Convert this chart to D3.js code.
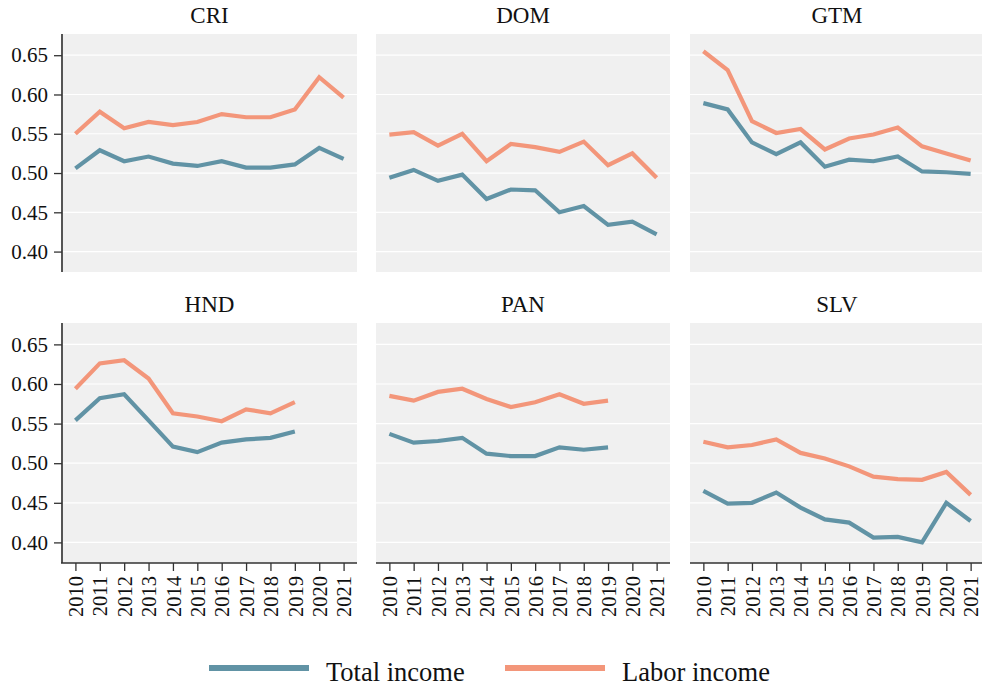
<!DOCTYPE html>
<html>
<head>
<meta charset="utf-8">
<script src="https://cdn.jsdelivr.net/npm/d3@7/dist/d3.min.js"></script>
<style>
  html, body { margin: 0; padding: 0; background: #ffffff; }
  svg { display: block; }
  svg text { font-family: "Liberation Serif", "Times New Roman", serif !important; }
</style>
</head>
<body>
<svg id="chart" width="982" height="690"></svg>
<script>
// Years on the x axis
const years = [2010, 2011, 2012, 2013, 2014, 2015, 2016, 2017, 2018, 2019, 2020, 2021];
const countries = ["CRI", "DOM", "GTM", "HND", "PAN", "SLV"];
const yTicks = [0.40, 0.45, 0.50, 0.55, 0.60, 0.65];
const seriesNames = ["Total income", "Labor income"];

// Gini by country (null = no observation)
const totalCRI = [0.506, 0.529, 0.515, 0.521, 0.512, 0.509, 0.515, 0.507, 0.507, 0.511, 0.532, 0.518];
const laborCRI = [0.550, 0.578, 0.557, 0.565, 0.561, 0.565, 0.575, 0.571, 0.571, 0.581, 0.622, 0.596];
const totalDOM = [0.494, 0.504, 0.490, 0.498, 0.467, 0.479, 0.478, 0.450, 0.458, 0.434, 0.438, 0.422];
const laborDOM = [0.549, 0.552, 0.535, 0.550, 0.515, 0.537, 0.533, 0.527, 0.540, 0.510, 0.525, 0.494];
const totalGTM = [0.589, 0.581, 0.539, 0.524, 0.539, 0.508, 0.517, 0.515, 0.521, 0.502, 0.501, 0.499];
const laborGTM = [0.655, 0.631, 0.566, 0.551, 0.556, 0.530, 0.544, 0.549, 0.558, 0.534, 0.525, 0.516];
const totalHND = [0.554, 0.582, 0.587, 0.554, 0.521, 0.514, 0.526, 0.530, 0.532, 0.540, null, null];
const laborHND = [0.594, 0.626, 0.630, 0.607, 0.563, 0.559, 0.553, 0.568, 0.563, 0.577, null, null];
const totalPAN = [0.537, 0.526, 0.528, 0.532, 0.512, 0.509, 0.509, 0.520, 0.517, 0.520, null, null];
const laborPAN = [0.585, 0.579, 0.590, 0.594, 0.581, 0.571, 0.577, 0.587, 0.575, 0.579, null, null];
const totalSLV = [0.465, 0.449, 0.450, 0.463, 0.444, 0.429, 0.425, 0.406, 0.407, 0.400, 0.450, 0.427];
const laborSLV = [0.527, 0.520, 0.523, 0.530, 0.513, 0.506, 0.496, 0.483, 0.480, 0.479, 0.489, 0.460];

const totals = [totalCRI, totalDOM, totalGTM, totalHND, totalPAN, totalSLV];
const labors = [laborCRI, laborDOM, laborGTM, laborHND, laborPAN, laborSLV];

const colors = { "Total income": "#6193a5", "Labor income": "#f3967a" };

const svg = d3.select("#chart");

const colX = [[62, 357], [376, 670], [690, 984]];
const rowY = [[34, 272], [323, 563]];
const titleY = [23, 312];

const y0 = d3.scaleLinear().domain([0.374, 0.677]);

countries.forEach((c, i) => {
  const col = i % 3, row = Math.floor(i / 3);
  const [xl, xr] = colX[col];
  const [yt, yb] = rowY[row];

  const x = d3.scalePoint().domain(years).range([xl, xr]).padding(0.55);
  const y = y0.copy().range([yb, yt]);

  const g = svg.append("g");

  // panel background
  g.append("rect")
    .attr("x", xl).attr("y", yt)
    .attr("width", xr - xl).attr("height", yb - yt)
    .attr("fill", "#f0f0f0");

  // horizontal gridlines
  g.selectAll("line.grid").data(yTicks).join("line")
    .attr("class", "grid")
    .attr("x1", xl).attr("x2", xr)
    .attr("y1", d => y(d)).attr("y2", d => y(d))
    .attr("stroke", "#ffffff").attr("stroke-width", 1.2);

  // title
  g.append("text")
    .attr("x", (xl + xr) / 2).attr("y", titleY[row])
    .attr("text-anchor", "middle")
    .attr("font-size", 23).attr("fill", "#111")
    .text(c);

  // series lines
  const line = d3.line()
    .defined(d => d.v != null)
    .x(d => x(d.year))
    .y(d => y(d.v));

  [["Total income", totals[i]], ["Labor income", labors[i]]].forEach(([name, vals]) => {
    g.append("path")
      .datum(years.map((yr, k) => ({ year: yr, v: vals[k] })))
      .attr("d", line)
      .attr("fill", "none")
      .attr("stroke", colors[name])
      .attr("stroke-width", 4.2)
      .attr("stroke-linejoin", "miter");
  });

  // left axis on first column
  if (col === 0) {
    const ax = g.append("g")
      .attr("transform", `translate(${xl},0)`)
      .call(d3.axisLeft(y).tickValues(yTicks).tickFormat(d3.format(".2f")).tickSize(8).tickSizeOuter(0).tickPadding(6));
    ax.attr("font-family", null);
    ax.select(".domain").attr("stroke", "#555").attr("stroke-width", 2)
      .attr("d", `M0,${yt}V${yb}`);
    ax.selectAll(".tick line").attr("stroke", "#333").attr("stroke-width", 1.3);
    ax.selectAll(".tick text")
      .attr("font-size", 21).attr("fill", "#111");
  }

  // bottom axis on second row
  if (row === 1) {
    const ax = g.append("g")
      .attr("transform", `translate(0,${yb})`)
      .call(d3.axisBottom(x).tickSize(8).tickSizeOuter(0).tickPadding(5));
    ax.attr("font-family", null);
    ax.select(".domain").attr("stroke", "#333").attr("stroke-width", 1.6)
      .attr("d", `M${xl - (col === 0 ? 1 : 0)},0H${xr}`);
    ax.selectAll(".tick line").attr("stroke", "#333").attr("stroke-width", 1.3);
    ax.selectAll(".tick text")
      .attr("font-size", 20.5).attr("fill", "#111")
      .attr("text-anchor", "end")
      .attr("transform", "rotate(-90)")
      .attr("x", -13).attr("y", 0).attr("dy", "0.35em");
  }
});

// legend
const legend = svg.append("g");
const legendX = [209, 505];
seriesNames.forEach((name, k) => {
  legend.append("line")
    .attr("x1", legendX[k]).attr("x2", legendX[k] + 100)
    .attr("y1", 668).attr("y2", 668)
    .attr("stroke", colors[name]).attr("stroke-width", 6);
  legend.append("text")
    .attr("x", legendX[k] + 117).attr("y", 681)
    .attr("font-size", 26.5).attr("fill", "#111")
    .text(name);
});
</script>
</body>
</html>
